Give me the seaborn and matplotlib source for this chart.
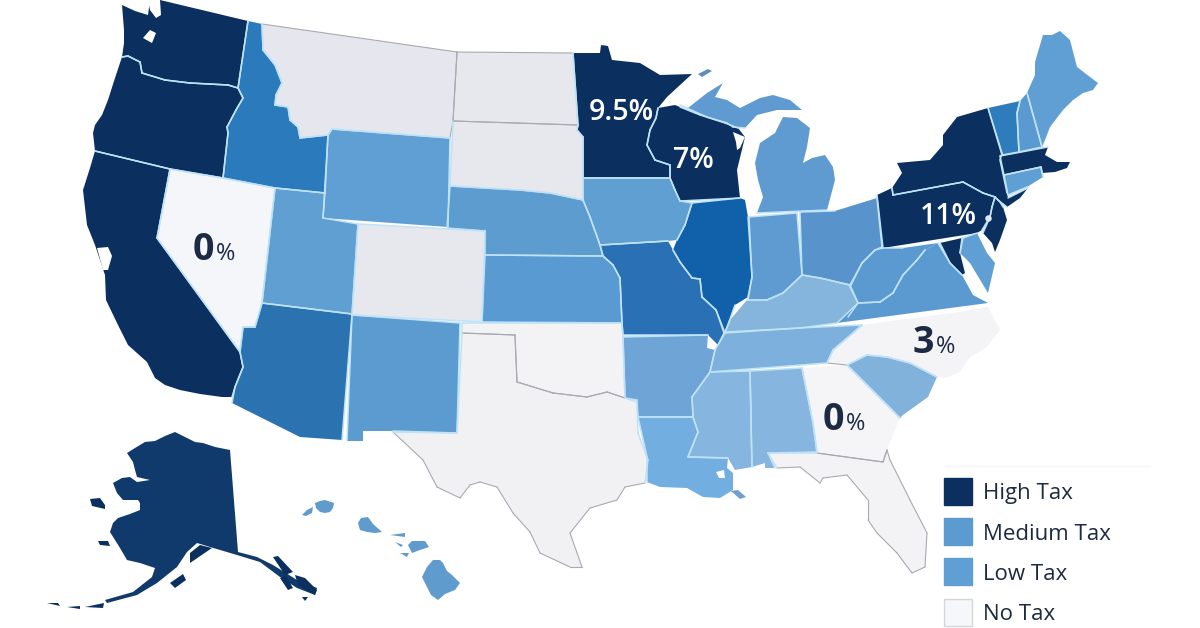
import numpy as np
import pandas as pd
import seaborn as sns
import matplotlib.pyplot as plt
from matplotlib.patches import Rectangle
from matplotlib.path import Path

# State outlines, in image pixels (x, y)
WA = [(122,5),(135,11),(148,15),(150,0),(160,0),(248,21),(238,88),(228,85),(190,83),(165,80),(142,73),(140,62),(128,56),(122,57),(124,43),(124,30)]
OR = [(122,57),(128,56),(140,62),(142,73),(165,80),(190,83),(228,85),(238,88),(243,98),(236,110),(227,127),(228,133),(223,178),(170,169),(95,151),(93,133),(95,125),(102,115),(108,100),(115,78)]
CA = [(95,151),(170,169),(157,238),(240,352),(243,367),(235,387),(232,397),(222,397),(200,394),(180,390),(165,385),(155,378),(147,362),(128,345),(118,325),(106,300),(105,275),(95,245),(87,225),(83,190),(90,168)]
NV = [(170,169),(223,178),(275,188),(262,303),(255,327),(243,327),(240,352),(157,238)]
ID = [(248,21),(262,24),(263,50),(275,65),(282,83),(276,95),(275,105),(288,107),(290,120),(298,127),(300,138),(328,135),(325,193),(275,188),(223,178),(228,133),(227,127),(236,110),(243,98),(238,88)]
MT = [(262,24),(457,52),(453,121),(450,138),(332,129),(328,135),(300,138),(298,127),(290,120),(288,107),(275,105),(276,95),(282,83),(275,65),(263,50)]
WY = [(332,129),(450,138),(448,227),(323,218),(328,135)]
UT = [(275,188),(325,193),(323,218),(358,224),(352,314),(262,303)]
AZ = [(262,303),(352,314),(342,440),(300,437),(232,403),(235,387),(243,367),(240,352),(243,327),(255,327)]
CO = [(358,224),(485,231),(482,322),(352,315)]
NM = [(352,315),(460,323),(457,433),(393,431),(363,431),(363,441),(347,441)]
ND = [(457,52),(573,53),(578,125),(453,121)]
SD = [(453,121),(578,125),(577,130),(583,137),(583,200),(550,193),(520,190),(450,186)]
NE = [(450,186),(520,190),(550,193),(583,200),(590,217),(600,245),(603,256),(485,255),(485,231),(447,228)]
KS = [(485,255),(603,256),(613,265),(620,278),(622,323),(482,322)]
OK = [(462,323),(622,323),(623,337),(625,398),(607,392),(587,397),(553,393),(517,382),(515,335),(462,333)]
TX = [(462,333),(515,335),(517,382),(553,393),(587,397),(607,392),(625,398),(637,402),(638,433),(648,460),(645,483),(625,487),(617,500),(590,508),(570,533),(582,567),(570,567),(540,553),(530,532),(513,513),(497,487),(480,482),(470,485),(460,498),(437,487),(423,460),(393,432),(457,433)]
MN = [(573,53),(600,53),(601,45),(608,46),(612,60),(640,63),(660,75),(692,74),(667,97),(658,108),(656,118),(650,130),(647,145),(655,160),(670,165),(670,178),(583,178),(583,137),(577,130),(578,125)]
IA = [(583,178),(670,178),(675,190),(680,201),(692,203),(685,225),(677,240),(668,241),(600,245),(590,217),(583,200)]
MO = [(600,245),(668,241),(673,250),(680,262),(692,278),(700,279),(702,297),(716,310),(724,333),(718,345),(708,335),(623,335),(622,323),(620,278),(613,265),(603,256)]
AR = [(623,337),(708,335),(707,348),(715,350),(710,372),(692,397),(693,417),(638,417),(637,400),(625,398)]
LA = [(638,417),(693,417),(698,432),(688,457),(728,458),(727,468),(733,473),(733,490),(720,498),(703,497),(687,488),(660,487),(647,482),(647,457)]
WI = [(658,108),(675,105),(680,107),(700,115),(725,123),(738,128),(745,137),(737,170),(740,198),(680,201),(675,190),(670,178),(670,165),(655,160),(647,145),(650,130),(656,118)]
IL = [(692,203),(740,198),(745,200),(748,217),(752,277),(748,297),(735,305),(725,333),(716,310),(702,297),(700,279),(692,278),(680,262),(673,250),(677,240),(685,225)]
IN = [(749,217),(797,213),(802,275),(783,293),(767,300),(748,300),(752,277)]
MI_LOWER = [(757,213),(763,197),(758,180),(755,163),(760,143),(775,133),(783,117),(797,118),(810,128),(807,147),(803,163),(812,158),(825,155),(833,167),(835,180),(827,210)]
MI_UPPER = [(680,105),(688,108),(707,93),(723,83),(715,97),(727,100),(740,108),(760,98),(773,95),(790,100),(802,110),(777,110),(757,115),(745,128),(733,127),(727,123),(707,117)]
ISLE_ROYALE = [(698,74),(708,69),(712,71),(702,77)]
OH = [(800,212),(835,211),(877,198),(882,247),(875,250),(862,263),(850,285),(820,278),(802,275)]
KY = [(802,275),(820,278),(850,285),(858,303),(848,317),(837,323),(800,328),(725,332),(730,320),(747,300),(767,300),(783,293)]
TN = [(725,333),(800,328),(862,325),(853,333),(833,350),(827,363),(710,372),(715,350)]
MS = [(710,372),(750,371),(752,467),(735,470),(728,458),(688,457),(698,432),(693,417),(692,397)]
AL = [(750,371),(802,368),(813,423),(817,452),(768,453),(775,468),(765,468),(765,463),(752,467)]
GA = [(802,368),(847,365),(900,418),(890,442),(887,450),(883,462),(817,453),(813,423)]
FL = [(768,453),(817,453),(883,462),(887,450),(890,460),(910,500),(927,533),(925,567),(912,573),(897,553),(877,533),(868,520),(868,500),(847,475),(823,478),(820,483),(800,467),(777,468)]
SC = [(847,365),(867,355),(887,357),(910,363),(937,377),(928,397),(903,415),(900,418)]
NC = [(862,325),(960,312),(988,307),(1000,330),(987,347),(970,357),(960,372),(945,378),(937,377),(910,363),(887,357),(867,355),(847,365),(827,363),(833,350),(853,333)]
VA = [(938,243),(950,263),(962,275),(973,295),(988,303),(837,323),(858,303),(880,302),(893,293),(903,275),(917,260),(925,250)]
WV = [(883,248),(903,248),(938,243),(925,250),(917,260),(903,275),(893,293),(880,302),(858,303),(850,287),(862,263),(875,250)]
PA = [(877,195),(892,188),(893,195),(963,182),(983,193),(995,197),(992,207),(990,217),(982,230),(977,233),(883,248)]
NY = [(893,195),(892,188),(902,173),(897,163),(930,160),(943,145),(943,135),(957,117),(988,108),(1002,153),(1000,160),(1007,193),(1008,198),(1028,188),(1020,198),(1007,207),(998,200),(995,197),(983,193),(963,182)]
NJ = [(995,197),(1000,202),(1003,207),(1007,220),(1000,240),(995,252),(992,243),(983,233),(990,217),(992,207)]
MD = [(940,243),(962,238),(960,253),(965,273),(962,275),(950,263)]
DE = [(963,238),(977,233),(987,253),(995,263),(988,293),(982,283),(970,263),(960,253)]
VT = [(988,108),(1020,101),(1017,113),(1019,152),(1002,155)]
NH = [(1020,101),(1027,93),(1042,147),(1019,152),(1017,113)]
ME = [(1027,93),(1035,75),(1035,62),(1043,35),(1052,35),(1060,31),(1070,40),(1077,67),(1090,77),(1098,83),(1093,90),(1083,93),(1073,100),(1063,110),(1050,127),(1045,140),(1042,147)]
MA = [(1000,156),(1048,147),(1045,155),(1057,162),(1070,162),(1067,168),(1055,172),(1042,173),(1041,167),(1004,175)]
CT = [(1004,175),(1041,167),(1043,177),(1027,187),(1008,195)]
AK = [(127,453),(135,448),(145,442),(155,441),(165,436),(175,432),(185,437),(195,442),(203,443),(215,447),(230,450),(238,552),(257,557),(273,565),(297,580),(317,588),(315,595),(297,588),(280,577),(260,562),(237,555),(210,547),(197,543),(187,552),(177,567),(157,583),(137,595),(107,603),(105,600),(133,592),(152,577),(155,568),(140,563),(127,560),(120,548),(110,532),(113,523),(118,518),(130,514),(140,510),(140,503),(138,500),(123,500),(117,493),(113,483),(122,478),(130,477),(137,482),(150,480),(137,477),(135,470),(133,462)]
AK_ISLANDS = [
    [(90,499),(100,498),(105,505),(105,509),(92,506)],
    [(98,541),(108,541),(110,546),(100,545)],
    [(170,583),(183,574),(186,580),(175,588)],
    [(190,553),(200,545),(212,548),(190,563)],
    [(85,607),(104,603),(103,608)],
    [(67,607),(80,606),(80,609)],
    [(47,603),(58,603),(60,606)],
    [(273,557),(278,556),(293,572),(285,575)],
    [(280,578),(286,576),(293,588),(288,590)],
    [(295,575),(305,578),(317,590),(315,595),(298,585)],
    [(302,597),(308,597),(305,601)],
]
HI_ISLANDS = [
    [(422,577),(427,567),(433,560),(440,560),(443,563),(447,571),(452,575),(460,583),(455,590),(445,594),(438,600),(431,595),(427,587)],
    [(408,545),(412,541),(425,541),(429,547),(420,550),(412,553)],
    [(358,523),(361,518),(368,517),(373,524),(382,532),(375,533),(367,532),(360,530)],
    [(315,503),(320,501),(325,500),(334,503),(333,508),(330,512),(325,513),(320,512),(316,508)],
    [(302,515),(307,510),(313,507),(312,513),(306,516)],
    [(390,535),(405,533),(405,537)],
    [(395,542),(403,545),(401,547)],
    [(400,553),(409,553),(407,557)],
]
LA_DELTA = [(731,491),(738,490),(746,497),(740,499)]
WATER = [
    [(148,0),(160,0),(161,15),(156,18),(150,10)],
    [(143,38),(150,30),(156,33),(152,43)],
    [(733,132),(745,137),(740,148),(737,150),(736,142)],
    [(97,248),(108,247),(112,256),(108,270),(103,270)],
    [(716,472),(724,470),(725,478),(719,478)],
]
CITY_DOT = [(988,218)]

# Fill colour of each shape
NAVY = "#0b2f5f"
STATE_SHAPES = {"WA": WA, "OR": OR, "CA": CA, "NV": NV, "ID": ID, "MT": MT, "WY": WY, "UT": UT, "AZ": AZ,
                "CO": CO, "NM": NM, "ND": ND, "SD": SD, "NE": NE, "KS": KS, "OK": OK, "TX": TX, "MN": MN,
                "IA": IA, "MO": MO, "AR": AR, "LA": LA, "WI": WI, "IL": IL, "IN": IN, "MI_LOWER": MI_LOWER,
                "MI_UPPER": MI_UPPER, "OH": OH, "KY": KY, "TN": TN, "MS": MS, "AL": AL, "GA": GA, "FL": FL,
                "SC": SC, "NC": NC, "VA": VA, "WV": WV, "PA": PA, "NY": NY, "NJ": NJ, "MD": MD, "DE": DE,
                "VT": VT, "NH": NH, "ME": ME, "MA": MA, "CT": CT, "AK": AK}
STATE_COLORS = {"WA": NAVY, "OR": NAVY, "CA": NAVY, "NV": "#f5f6fa", "ID": "#2b7abb", "MT": "#e6e7ee",
                "WY": "#5f9fd3", "UT": "#609fd2", "AZ": "#2a72b0", "CO": "#e7e8ee", "NM": "#5b9bd0",
                "ND": "#e7e8ee", "SD": "#e7e8ee", "NE": "#5c9ccf", "KS": "#5a9ad3", "OK": "#f3f3f5",
                "TX": "#f1f1f4", "MN": NAVY, "IA": "#609fd2", "MO": "#2a70b5", "AR": "#6ea5d6",
                "LA": "#72aee0", "WI": NAVY, "IL": "#1060aa", "IN": "#5f9bd0", "MI_LOWER": "#5f9bd0",
                "MI_UPPER": "#5f9bd0", "OH": "#5893cb", "KY": "#85b4dc", "TN": "#7db0dc", "MS": "#86b6e0",
                "AL": "#86b6e0", "GA": "#f5f5f7", "FL": "#f3f3f6", "SC": "#80b2dc", "NC": "#f4f4f7",
                "VA": "#5b9ad0", "WV": "#5b9ad0", "PA": NAVY, "NY": NAVY, "NJ": NAVY, "MD": NAVY,
                "DE": "#5f9fd3", "VT": "#2f7cbc", "NH": "#5b9ad0", "ME": "#5f9fd3", "MA": NAVY,
                "CT": "#5f9fd3", "AK": "#103a6b"}
NO_TAX_STATES = ["NV", "MT", "CO", "ND", "SD", "OK", "TX", "GA", "FL", "NC"]
GREY_COAST_STATES = ["MT", "ND", "SD", "OK", "TX", "FL"]

LEGEND_LABELS = ["High Tax", "Medium Tax", "Low Tax", "No Tax"]
LEGEND_COLORS = [NAVY, "#5b9bd0", "#5f9fd3", "#f6f7fa"]
LEGEND_TOPS = [478, 518, 558, 599]

RATE_LABELS = [("9.5", 589, 112, "white"), ("7", 673, 161, "white"), ("11", 920, 216, "white"),
               ("0", 193, 250, "#1c2a44"), ("3", 913, 343, "#1c2a44"), ("0", 823, 420, "#1c2a44")]

sns.set_theme(style="white")
plt.rcParams["font.family"] = ["Open Sans", "DejaVu Sans"]

fig, ax = plt.subplots(figsize=(12, 6.28), dpi=100)
fig.subplots_adjust(0, 0, 1, 1)

# fills
for name, shape in STATE_SHAPES.items():
    ax.fill(*zip(*shape), color=STATE_COLORS[name], lw=0, zorder=1)
for shape in AK_ISLANDS:
    ax.fill(*zip(*shape), color=NAVY, lw=0, zorder=1)
for shape in HI_ISLANDS:
    ax.fill(*zip(*shape), color="#5f9bcc", lw=0, zorder=1)
ax.fill(*zip(*ISLE_ROYALE), color="#5f8fb8", lw=0, zorder=1)
ax.fill(*zip(*LA_DELTA), color="#6f9fcf", lw=0, zorder=1)

# pale lines only where two states touch, grey between no tax states, coasts stay bare
paths = {name: Path(shape) for name, shape in STATE_SHAPES.items()}


def state_at(point):
    for name, path in paths.items():
        if path.contains_point(point):
            return name
    return None


inner_rows = []
grey_rows = []
seg = 0
for name, shape in STATE_SHAPES.items():
    if name == "AK":
        continue
    for p, q in zip(shape, shape[1:] + shape[:1]):
        p_arr, q_arr = np.array(p, float), np.array(q, float)
        mid = (p_arr + q_arr) / 2
        d = q_arr - p_arr
        normal = np.array([-d[1], d[0]]) / np.hypot(*d)
        side_a, side_b = state_at(mid + 3 * normal), state_at(mid - 3 * normal)
        seg += 1
        pair = [{"seg": seg, "x": p[0], "y": p[1]}, {"seg": seg, "x": q[0], "y": q[1]}]
        if side_a and side_b:
            if side_a in NO_TAX_STATES and side_b in NO_TAX_STATES:
                grey_rows += pair
            else:
                inner_rows += pair
        elif name in GREY_COAST_STATES:
            grey_rows += pair

sns.lineplot(data=pd.DataFrame(grey_rows), x="x", y="y", units="seg", estimator=None, sort=False,
             color="#a8aab2", lw=0.8, ax=ax, zorder=2)
sns.lineplot(data=pd.DataFrame(inner_rows), x="x", y="y", units="seg", estimator=None, sort=False,
             color="#bfe2f6", lw=1.1, ax=ax, zorder=3)

for shape in WATER:
    ax.fill(*zip(*shape), color="white", lw=0, zorder=4)
ax.scatter(*zip(*CITY_DOT), s=22, color="#dfe9f4", lw=0, zorder=5)

# rate labels: the number is big, the percent sign is smaller on the light states
for value, x, y, color in RATE_LABELS:
    if color == "white":
        ax.text(x, y, value + "%", color=color, fontsize=20.5, fontweight="semibold",
                va="center", ha="left", zorder=6)
    else:
        t = ax.text(x, y, value, color=color, fontsize=27, fontweight="bold",
                    va="center", ha="left", zorder=6)
        ax.annotate("%", xy=(1, 0), xycoords=t, xytext=(1, 2), textcoords="offset points",
                    color=color, fontsize=17, va="bottom", ha="left", zorder=6)

# legend
ax.plot([945, 1150], [466, 466], color="#f5f5f7", lw=1, zorder=1)
for label, color, top in zip(LEGEND_LABELS, LEGEND_COLORS, LEGEND_TOPS):
    ax.add_patch(Rectangle((944, top), 28, 27, facecolor=color, edgecolor="#d4d6da" if label == "No Tax" else color,
                           lw=1, zorder=5))
    ax.text(983, top + 16, label, color="#1d2b40", fontsize=16, va="center", ha="left", zorder=6)

ax.set_xlim(0, 1200)
ax.set_ylim(628, 0)
ax.set_xlabel("")
ax.set_ylabel("")
ax.set_axis_off()
fig.savefig("out.png", dpi=100)
